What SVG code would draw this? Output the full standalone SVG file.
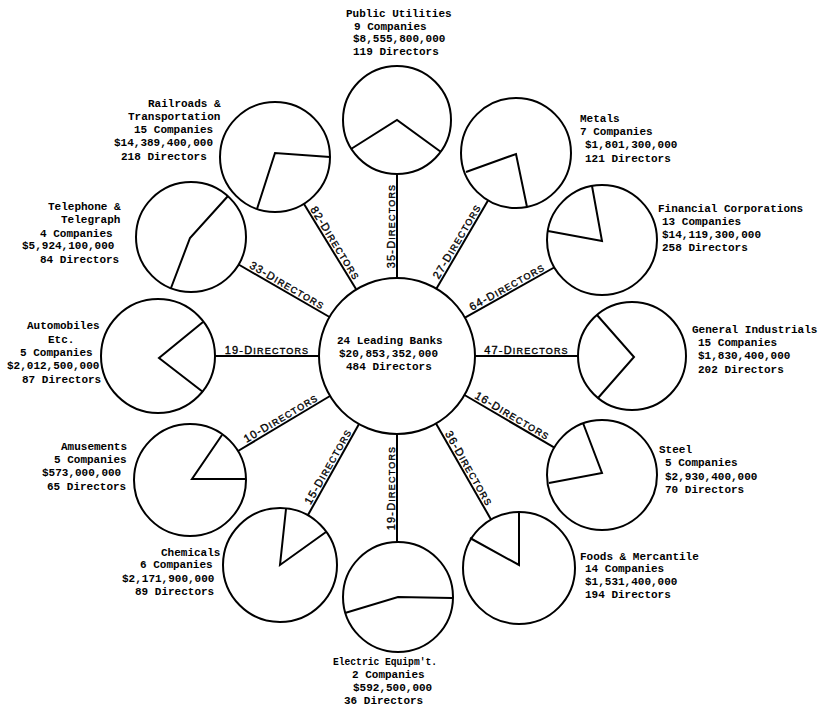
<svg xmlns="http://www.w3.org/2000/svg" width="827" height="709" viewBox="0 0 827 709">
<style>
.c{fill:#fff;stroke:#000;stroke-width:2}
.p{fill:none;stroke:#000;stroke-width:2;stroke-linejoin:miter}
.k{stroke:#000;stroke-width:2}
.t{font-family:"Liberation Mono",monospace;font-weight:bold;font-size:11px;fill:#000}
.l{font-family:"Liberation Sans",Arial,sans-serif;font-size:11px;fill:#000;stroke:#000;stroke-width:0.35;text-anchor:middle;letter-spacing:1.2px}
.s{font-size:9px}
</style>
<rect width="827" height="709" fill="#fff"/>
<g id="connectors">
<line class="k" x1="397" y1="278" x2="397" y2="174"/>
<line class="k" x1="436.5" y1="288.6" x2="488" y2="200.5"/>
<line class="k" x1="465" y1="317.7" x2="555" y2="267"/>
<line class="k" x1="475" y1="356" x2="578" y2="356"/>
<line class="k" x1="464.5" y1="395" x2="554" y2="447.4"/>
<line class="k" x1="436" y1="423.5" x2="491" y2="519.5"/>
<line class="k" x1="397" y1="434" x2="397" y2="542"/>
<line class="k" x1="359" y1="424" x2="308" y2="515"/>
<line class="k" x1="330" y1="396" x2="238" y2="451"/>
<line class="k" x1="319" y1="356" x2="215" y2="356"/>
<line class="k" x1="329.5" y1="317" x2="238.6" y2="264.5"/>
<line class="k" x1="356" y1="289" x2="304" y2="204"/>
<text class="l" transform="translate(394.5 226) rotate(-90)">35-D<tspan class="s">IRECTORS</tspan></text>
<text class="l" transform="translate(460.1 243.3) rotate(-59.7)">27-D<tspan class="s">IRECTORS</tspan></text>
<text class="l" transform="translate(508.8 290.2) rotate(-29.4)">64-D<tspan class="s">IRECTORS</tspan></text>
<text class="l" transform="translate(526.5 353.5)">47-D<tspan class="s">IRECTORS</tspan></text>
<text class="l" transform="translate(510.5 419) rotate(30.35)">16-D<tspan class="s">IRECTORS</tspan></text>
<text class="l" transform="translate(465.7 470.3) rotate(60.2)">36-D<tspan class="s">IRECTORS</tspan></text>
<text class="l" transform="translate(394.5 488) rotate(-90)">19-D<tspan class="s">IRECTORS</tspan></text>
<text class="l" transform="translate(331.3 468.3) rotate(-60.7)">15-D<tspan class="s">IRECTORS</tspan></text>
<text class="l" transform="translate(282.7 421.4) rotate(-30.9)">10-D<tspan class="s">IRECTORS</tspan></text>
<text class="l" transform="translate(267 353.5)">19-D<tspan class="s">IRECTORS</tspan></text>
<text class="l" transform="translate(285.3 288.6) rotate(30)">33-D<tspan class="s">IRECTORS</tspan></text>
<text class="l" transform="translate(332.1 245.2) rotate(58.5)">82-D<tspan class="s">IRECTORS</tspan></text>
</g>
<g id="banks">
<circle class="c" cx="397" cy="356" r="78"/>
<text class="t" x="337" y="344">24 Leading Banks</text>
<text class="t" x="339" y="357">$20,853,352,000</text>
<text class="t" x="346" y="370">484 Directors</text>
</g>
<g id="public-utilities">
<circle class="c" cx="397" cy="120" r="54"/>
<polyline class="p" points="351,149 397,120 441,152"/>
<text class="t" x="346" y="17">Public Utilities</text>
<text class="t" x="354" y="30">9 Companies</text>
<text class="t" x="353" y="42">$8,555,800,000</text>
<text class="t" x="353" y="55">119 Directors</text>
</g>
<g id="metals">
<circle class="c" cx="516" cy="153" r="55"/>
<polyline class="p" points="466,172 516,154 527,207"/>
<text class="t" x="580" y="122">Metals</text>
<text class="t" x="580" y="135">7 Companies</text>
<text class="t" x="585" y="148">$1,801,300,000</text>
<text class="t" x="585" y="162">121 Directors</text>
</g>
<g id="financial">
<circle class="c" cx="602" cy="240" r="55"/>
<polyline class="p" points="548,231 602,241 592,186"/>
<text class="t" x="658" y="212">Financial Corporations</text>
<text class="t" x="662" y="225">13 Companies</text>
<text class="t" x="662" y="238">$14,119,300,000</text>
<text class="t" x="662" y="251">258 Directors</text>
</g>
<g id="general">
<circle class="c" cx="632" cy="356" r="54"/>
<polyline class="p" points="597,315 634,357 598,398"/>
<text class="t" x="692" y="333">General Industrials</text>
<text class="t" x="698" y="346">15 Companies</text>
<text class="t" x="698" y="359">$1,830,400,000</text>
<text class="t" x="698" y="373">202 Directors</text>
</g>
<g id="steel">
<circle class="c" cx="602" cy="475" r="55"/>
<polyline class="p" points="583,423 602,473 549,483"/>
<text class="t" x="659" y="453">Steel</text>
<text class="t" x="665" y="466">5 Companies</text>
<text class="t" x="665" y="480">$2,930,400,000</text>
<text class="t" x="665" y="493">70 Directors</text>
</g>
<g id="foods">
<circle class="c" cx="519" cy="568" r="56"/>
<polyline class="p" points="519,512 519,565 470,538"/>
<text class="t" x="580" y="560">Foods &amp; Mercantile</text>
<text class="t" x="585" y="572">14 Companies</text>
<text class="t" x="585" y="585">$1,531,400,000</text>
<text class="t" x="585" y="598">194 Directors</text>
</g>
<g id="electric">
<circle class="c" cx="398" cy="597" r="55"/>
<polyline class="p" points="345,613 398,597 452,598"/>
<text class="t" x="333" y="665" textLength="104" lengthAdjust="spacingAndGlyphs">Electric Equipm't.</text>
<text class="t" x="352" y="678">2 Companies</text>
<text class="t" x="353" y="691">$592,500,000</text>
<text class="t" x="344" y="704">36 Directors</text>
</g>
<g id="chemicals">
<circle class="c" cx="280" cy="565" r="57"/>
<polyline class="p" points="286,509 280,565 326,532"/>
<text class="t" x="161" y="556">Chemicals</text>
<text class="t" x="140" y="568">6 Companies</text>
<text class="t" x="122" y="582">$2,171,900,000</text>
<text class="t" x="135" y="595">89 Directors</text>
</g>
<g id="amusements">
<circle class="c" cx="190" cy="480" r="56"/>
<polyline class="p" points="222,435 192,479 246,479"/>
<text class="t" x="61" y="450">Amusements</text>
<text class="t" x="54" y="463">5 Companies</text>
<text class="t" x="42" y="476">$573,000,000</text>
<text class="t" x="47" y="490">65 Directors</text>
</g>
<g id="automobiles">
<circle class="c" cx="158" cy="356" r="57"/>
<polyline class="p" points="203,322 159,358 203,392"/>
<text class="t" x="27" y="329">Automobiles</text>
<text class="t" x="48" y="343">Etc.</text>
<text class="t" x="20" y="356">5 Companies</text>
<text class="t" x="7" y="369">$2,012,500,000</text>
<text class="t" x="22" y="383">87 Directors</text>
</g>
<g id="telephone">
<circle class="c" cx="191" cy="237" r="55"/>
<polyline class="p" points="228,196 190,238 171,288"/>
<text class="t" x="48" y="210">Telephone &amp;</text>
<text class="t" x="61" y="223">Telegraph</text>
<text class="t" x="40" y="237">4 Companies</text>
<text class="t" x="22" y="249">$5,924,100,000</text>
<text class="t" x="40" y="263">84 Directors</text>
</g>
<g id="railroads">
<circle class="c" cx="275" cy="157" r="55"/>
<polyline class="p" points="330,157 275,153 257,209"/>
<text class="t" x="148" y="107">Railroads &amp;</text>
<text class="t" x="128" y="120">Transportation</text>
<text class="t" x="134" y="133">15 Companies</text>
<text class="t" x="114" y="146">$14,389,400,000</text>
<text class="t" x="121" y="160">218 Directors</text>
</g>
</svg>
